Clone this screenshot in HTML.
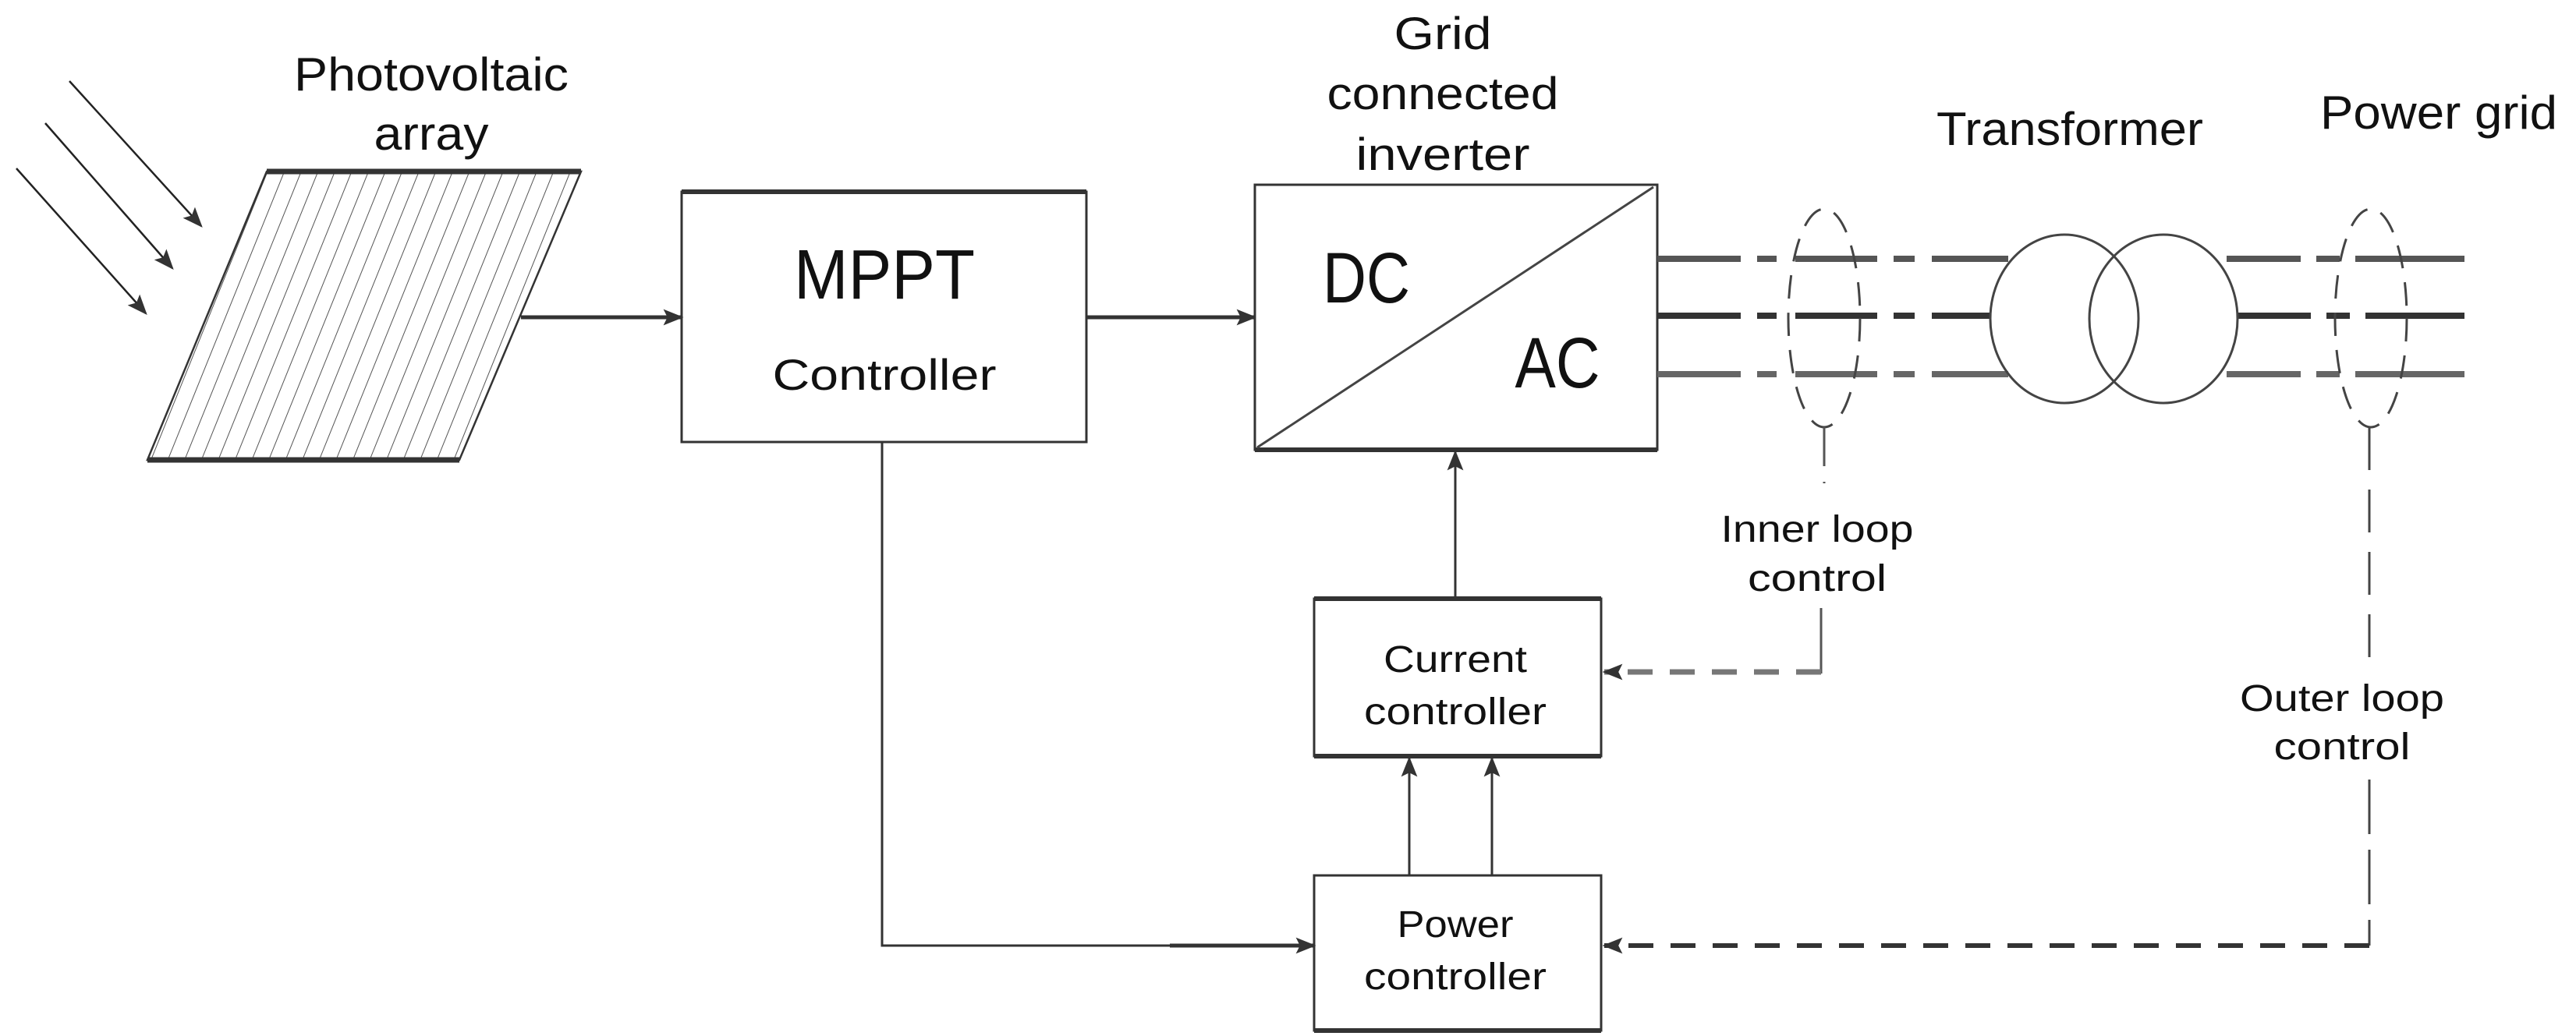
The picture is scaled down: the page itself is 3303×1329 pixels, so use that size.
<!DOCTYPE html>
<html><head><meta charset="utf-8"><style>
html,body{margin:0;padding:0;background:#fff}
svg{display:block}
text{font-family:"Liberation Sans Narrow","Liberation Sans",sans-serif;fill:#111;text-anchor:middle}
</style></head><body>
<svg width="3303" height="1329" viewBox="0 0 3303 1329" xmlns="http://www.w3.org/2000/svg">
<defs>
<marker id="ab" viewBox="0 0 10 10" refX="9" refY="5" markerWidth="26" markerHeight="26" orient="auto" markerUnits="userSpaceOnUse">
<path d="M0,1 L10,5 L0,9 L2,5 z" fill="#333"/></marker>
<pattern id="hatch" width="20" height="20" patternUnits="userSpaceOnUse" patternTransform="rotate(22)">
<line x1="0" y1="0" x2="0" y2="20" stroke="#555" stroke-width="2"/></pattern>
</defs>

<!-- sun rays -->
<g stroke="#222" stroke-width="2.5" fill="none" marker-end="url(#ab)">
<line x1="89" y1="104" x2="258" y2="290"/>
<line x1="58" y1="158" x2="221" y2="344"/>
<line x1="21" y1="216" x2="187" y2="402"/>
</g>

<!-- PV array -->
<polygon points="342,220 745,220 589,590 189,590" fill="url(#hatch)" stroke="none"/>
<polygon points="342,220 745,220 589,590 189,590" fill="none" stroke="#333" stroke-width="2.5"/>
<line x1="342" y1="220" x2="745" y2="220" stroke="#333" stroke-width="7"/>
<line x1="189" y1="590" x2="589" y2="590" stroke="#333" stroke-width="7"/>
<text x="553" y="116" font-size="60" textLength="352" lengthAdjust="spacingAndGlyphs">Photovoltaic</text>
<text x="553" y="192" font-size="60" textLength="147" lengthAdjust="spacingAndGlyphs">array</text>

<!-- MPPT -->
<rect x="874" y="246" width="519" height="321" fill="#fff" stroke="#333" stroke-width="3"/>
<line x1="874" y1="246" x2="1393" y2="246" stroke="#333" stroke-width="6"/>
<text x="1134" y="383" font-size="90" textLength="232" lengthAdjust="spacingAndGlyphs">MPPT</text>
<text x="1134" y="500" font-size="56" textLength="287" lengthAdjust="spacingAndGlyphs">Controller</text>
<line x1="668" y1="407" x2="874" y2="407" stroke="#333" stroke-width="5" marker-end="url(#ab)"/>
<line x1="1393" y1="407" x2="1609" y2="407" stroke="#333" stroke-width="5" marker-end="url(#ab)"/>

<!-- Inverter -->
<rect x="1609" y="237" width="516" height="340" fill="#fff" stroke="#333" stroke-width="3"/>
<line x1="1609" y1="577" x2="2125" y2="577" stroke="#333" stroke-width="6"/>
<line x1="1612" y1="574" x2="2120" y2="240" stroke="#444" stroke-width="3"/>
<text x="1752" y="388" font-size="92" textLength="112" lengthAdjust="spacingAndGlyphs">DC</text>
<text x="1997" y="497" font-size="92" textLength="109" lengthAdjust="spacingAndGlyphs">AC</text>
<text x="1850" y="63" font-size="58" textLength="125" lengthAdjust="spacingAndGlyphs">Grid</text>
<text x="1850" y="140" font-size="58" textLength="297" lengthAdjust="spacingAndGlyphs">connected</text>
<text x="1850" y="218" font-size="58" textLength="223" lengthAdjust="spacingAndGlyphs">inverter</text>

<!-- three lines -->
<g stroke="#555" stroke-width="8" fill="none" stroke-dasharray="107,21,25,24,105,21,27,22,300">
<line x1="2125" y1="332" x2="2575" y2="332"/>
<line x1="2125" y1="405" x2="2552" y2="405" stroke="#333"/>
<line x1="2125" y1="480" x2="2575" y2="480" stroke="#666"/>
</g>
<g stroke="#555" stroke-width="8" fill="none" stroke-dasharray="95,20,30,20,300">
<line x1="2855" y1="332" x2="3160" y2="332"/>
<line x1="2868" y1="405" x2="3160" y2="405" stroke="#333"/>
<line x1="2855" y1="480" x2="3160" y2="480" stroke="#666"/>
</g>
<!-- transformer -->
<ellipse cx="2647" cy="409" rx="95" ry="108" fill="none" stroke="#444" stroke-width="3"/>
<ellipse cx="2774" cy="409" rx="95" ry="108" fill="none" stroke="#444" stroke-width="3"/>
<text x="2654" y="186" font-size="60" textLength="342" lengthAdjust="spacingAndGlyphs">Transformer</text>
<text x="3127" y="165" font-size="60" textLength="304" lengthAdjust="spacingAndGlyphs">Power grid</text>

<!-- sensing ellipses -->
<ellipse cx="2339" cy="408" rx="46" ry="140" fill="none" stroke="#444" stroke-width="3" stroke-dasharray="30,18"/>
<ellipse cx="3040" cy="408" rx="46" ry="140" fill="none" stroke="#444" stroke-width="3" stroke-dasharray="30,18"/>

<!-- inner loop -->
<line x1="2339" y1="548" x2="2339" y2="620" stroke="#555" stroke-width="3" stroke-dasharray="50,20"/>
<text x="2330" y="695" font-size="48" textLength="247" lengthAdjust="spacingAndGlyphs">Inner loop</text>
<text x="2330" y="758" font-size="48" textLength="178" lengthAdjust="spacingAndGlyphs">control</text>
<line x1="2335" y1="780" x2="2335" y2="864" stroke="#555" stroke-width="3"/>
<line x1="2335" y1="862" x2="2057" y2="862" stroke="#777" stroke-width="7" stroke-dasharray="32,22" marker-end="url(#ab)"/>

<!-- outer loop -->
<line x1="3038" y1="548" x2="3038" y2="850" stroke="#444" stroke-width="3" stroke-dasharray="55,25"/>
<text x="3003" y="912" font-size="48" textLength="262" lengthAdjust="spacingAndGlyphs">Outer loop</text>
<text x="3003" y="974" font-size="48" textLength="175" lengthAdjust="spacingAndGlyphs">control</text>
<line x1="3038" y1="1000" x2="3038" y2="1213" stroke="#444" stroke-width="3" stroke-dasharray="70,20"/>
<line x1="3038" y1="1213" x2="2057" y2="1213" stroke="#333" stroke-width="6" stroke-dasharray="32,22" marker-end="url(#ab)"/>

<!-- current controller -->
<rect x="1685" y="768" width="368" height="202" fill="#fff" stroke="#333" stroke-width="3"/>
<line x1="1685" y1="768" x2="2053" y2="768" stroke="#333" stroke-width="6"/>
<line x1="1685" y1="970" x2="2053" y2="970" stroke="#333" stroke-width="6"/>
<text x="1866" y="862" font-size="48" textLength="184" lengthAdjust="spacingAndGlyphs">Current</text>
<text x="1866" y="929" font-size="48" textLength="234" lengthAdjust="spacingAndGlyphs">controller</text>
<line x1="1866" y1="768" x2="1866" y2="580" stroke="#333" stroke-width="3" marker-end="url(#ab)"/>

<!-- power controller -->
<rect x="1685" y="1123" width="368" height="199" fill="#fff" stroke="#333" stroke-width="3"/>
<line x1="1685" y1="1322" x2="2053" y2="1322" stroke="#333" stroke-width="6"/>
<text x="1866" y="1202" font-size="48" textLength="149" lengthAdjust="spacingAndGlyphs">Power</text>
<text x="1866" y="1269" font-size="48" textLength="234" lengthAdjust="spacingAndGlyphs">controller</text>
<line x1="1807" y1="1123" x2="1807" y2="973" stroke="#333" stroke-width="3" marker-end="url(#ab)"/>
<line x1="1913" y1="1123" x2="1913" y2="973" stroke="#333" stroke-width="3" marker-end="url(#ab)"/>

<!-- MPPT to power controller -->
<polyline points="1131,567 1131,1213 1685,1213" fill="none" stroke="#333" stroke-width="3"/>
<line x1="1500" y1="1213" x2="1685" y2="1213" stroke="#333" stroke-width="5" marker-end="url(#ab)"/>
</svg>
</body></html>
